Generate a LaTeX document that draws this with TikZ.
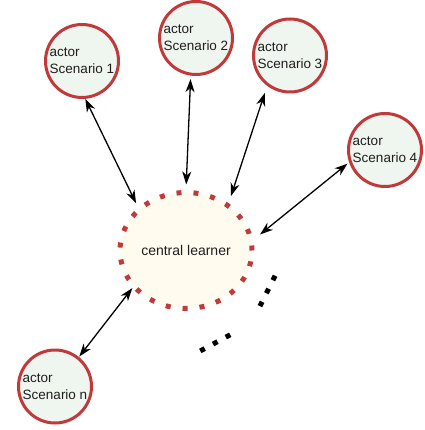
\documentclass[tikz,border=0pt]{standalone}
\usepackage{fontspec}
\setmainfont{Liberation Sans}
\usepackage{xcolor}
\usepackage{tikz}
\usetikzlibrary{arrows.meta,shapes.geometric,positioning}

\definecolor{ringred}{HTML}{C03A3B}
\definecolor{actorfill}{HTML}{EFF5EF}
\definecolor{learnerfill}{HTML}{FFFBEE}
\definecolor{labeltext}{HTML}{1E1E1E}

\begin{document}
\begin{tikzpicture}[
    x=1pt, y=-1pt, % pixel-like grid, y going down
    actor/.style={circle, draw=ringred, line width=3pt, fill=actorfill, minimum size=73pt, inner sep=0pt, align=left, text=labeltext, font=\fontsize{13.5}{17}\selectfont},
    learner/.style={ellipse, draw=ringred, line width=5pt, dash pattern=on 5pt off 12pt, fill=learnerfill, minimum width=132pt, minimum height=116pt, inner sep=0pt, text=labeltext, font=\fontsize{14}{17}\selectfont},
    comm/.style={line width=1.3pt, {Stealth[length=13pt,width=9pt,inset=4pt]}-{Stealth[length=13pt,width=9pt,inset=4pt]}},
    more/.style={line width=5pt, dash pattern=on 5pt off 9.5pt}
  ]
    \useasboundingbox (0,0) rectangle (424,430);

    % Central learner
    \node[learner] (central) at (186,250.5) {central learner};

    % Actor nodes
    \node[actor] (s1) at (82,61) {actor\\Scenario 1};
    \node[actor] (s2) at (196,38) {actor\\Scenario 2};
    \node[actor] (s3) at (290,55.5) {actor\\Scenario 3};
    \node[actor] (s4) at (385,150) {actor\\Scenario 4};
    \node[actor] (sn) at (55,386.5) {actor\\Scenario n};

    % Actor-learner communication
    \draw[comm, shorten >=4.5pt] (s1.-85) -- (central.138);
    \draw[comm, shorten <=3.5pt, shorten >=5.5pt] (s2.-98) -- (central.90);
    \draw[comm, shorten <=7.5pt, shorten >=7.5pt] (s3.-127.5) -- (central.48.7);
    \draw[comm, shorten <=2pt, shorten >=8.5pt] (s4.-161) -- (central.9.3);
    \draw[comm, shorten <=0.5pt] (sn.51.3) -- (central.-145.4);

    % More actors
    \draw[more] (275.1,275.8) -- (259.9,306.2);
    \draw[more] (230.2,334.8) -- (199.8,351.2);

  \end{tikzpicture}
\end{document}
